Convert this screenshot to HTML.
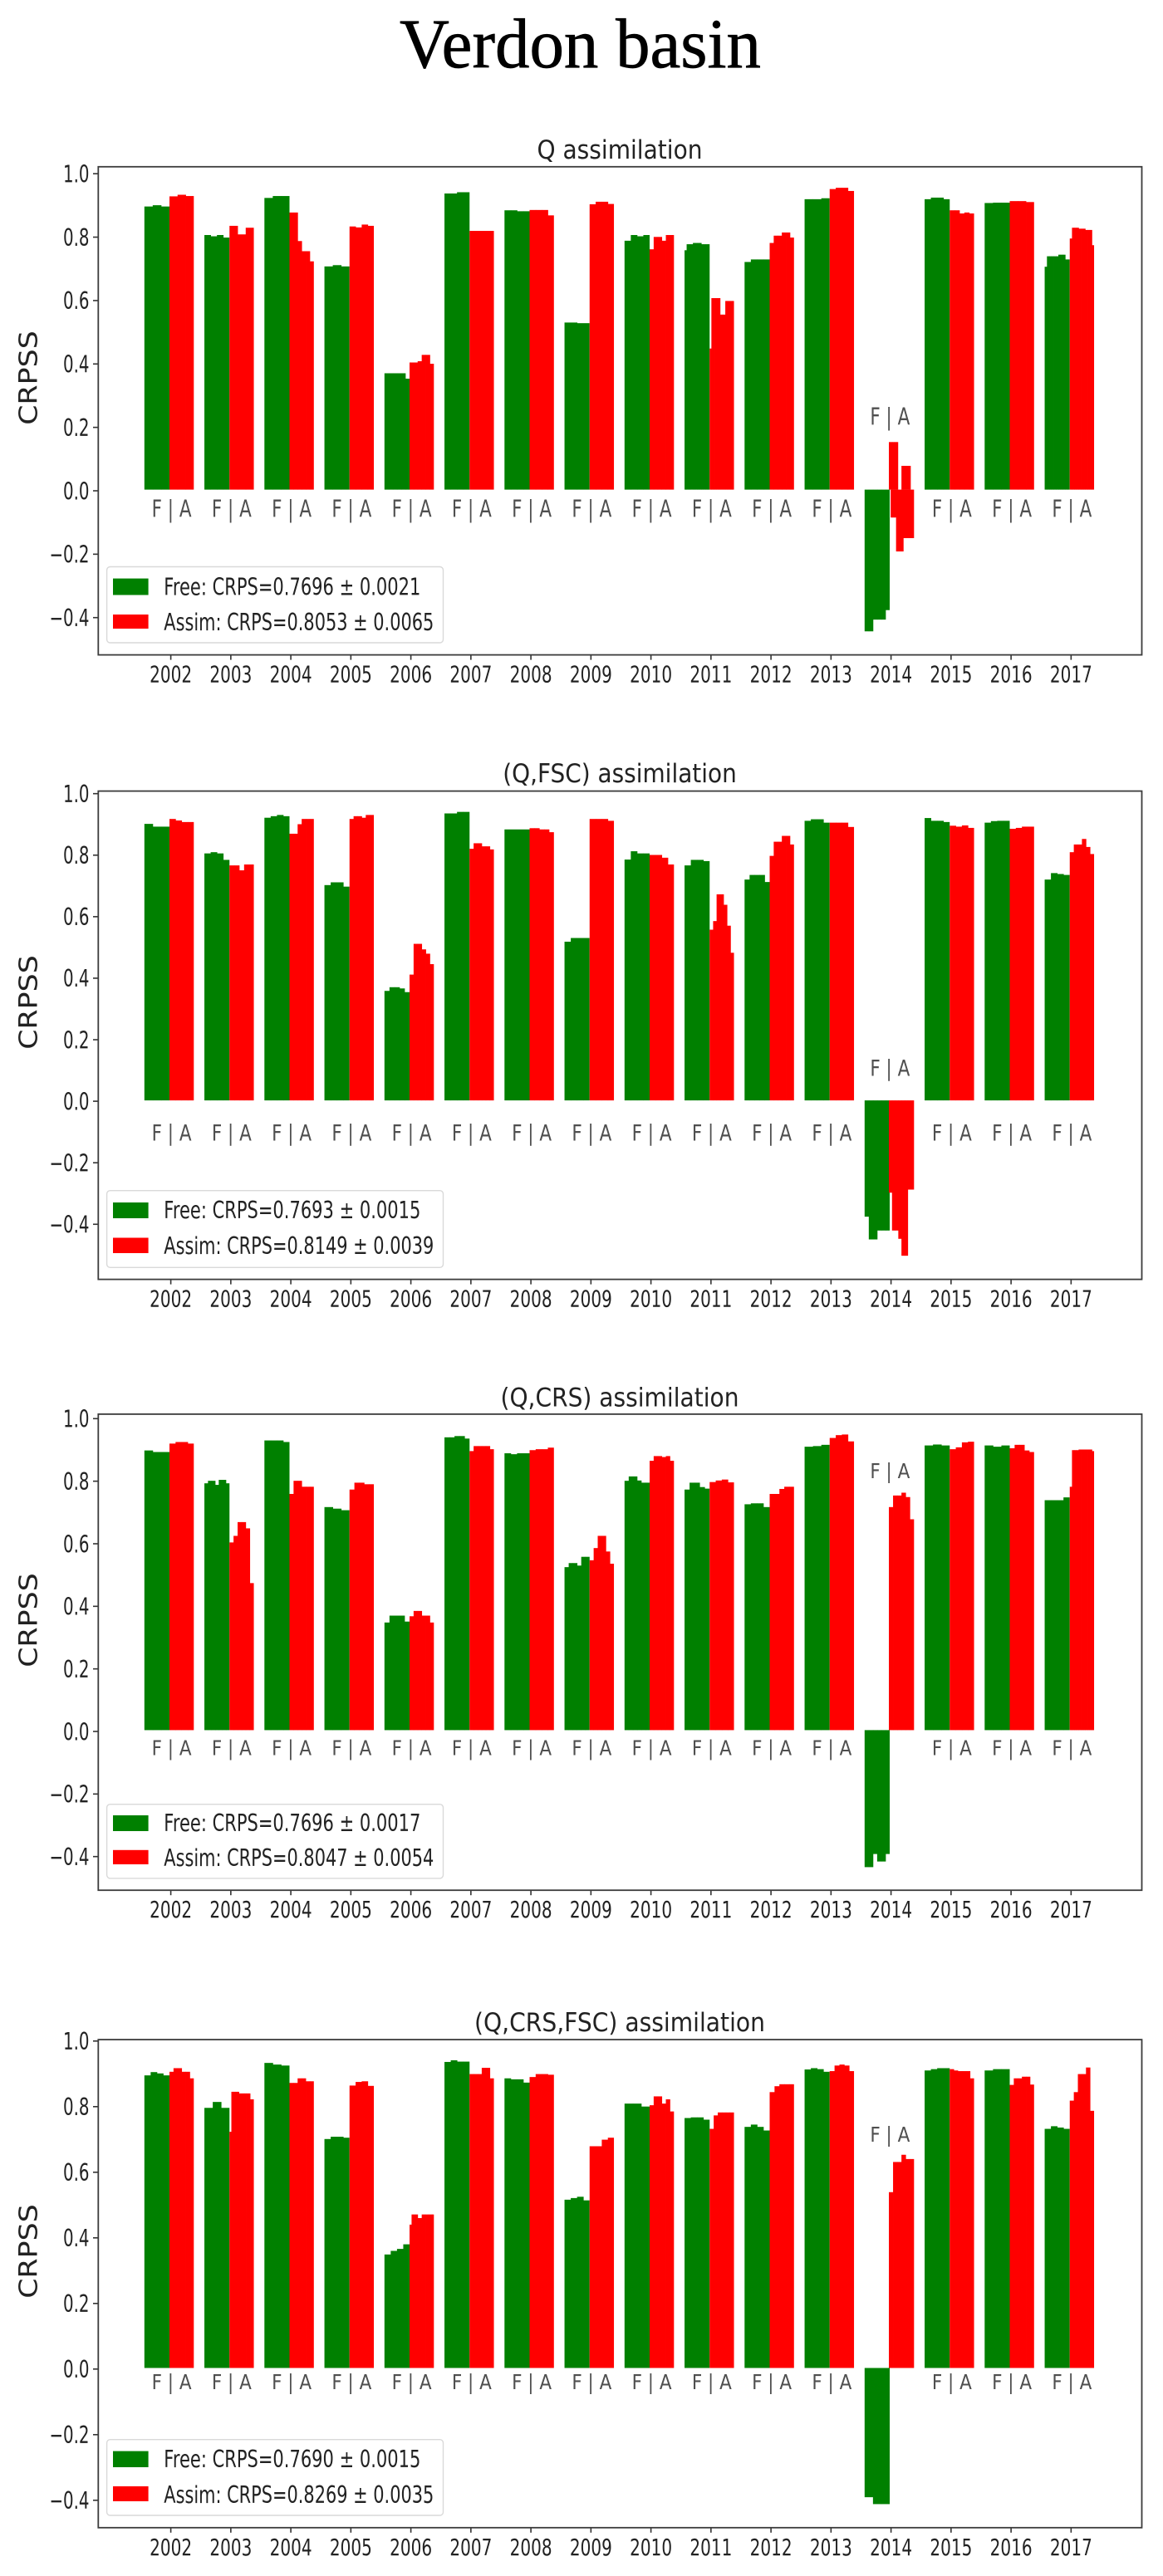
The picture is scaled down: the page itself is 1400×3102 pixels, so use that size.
<!DOCTYPE html>
<html lang="en">
<head>
<meta charset="utf-8">
<title>Verdon basin</title>
<style>
html,body{margin:0;padding:0;background:#fff;}
svg{display:block;}
text{font-family:"DejaVu Sans","Liberation Sans",sans-serif;fill:#222;}
#main-title{font-family:"Liberation Serif",serif;fill:#000;stroke:#000;stroke-width:0.7px;}
</style>
</head>
<body>
<svg id="chart" xmlns="http://www.w3.org/2000/svg" width="1400" height="3102" viewBox="0 0 1400 3102">
  <rect x="0" y="0" width="1400" height="3102" fill="#ffffff"></rect>
  <text id="main-title" x="698.5" y="81" font-size="85" text-anchor="middle" textLength="435" lengthAdjust="spacingAndGlyphs">Verdon basin</text>
</svg>
<script>
const years = [2002,2003,2004,2005,2006,2007,2008,2009,2010,2011,2012,2013,2014,2015,2016,2017];
const yTickValues = [1.0,0.8,0.6,0.4,0.2,0.0,-0.2,-0.4];
const yTickLabels = ['1.0','0.8','0.6','0.4','0.2','0.0','\u22120.2','\u22120.4'];

const qFree = [
[.893,.897,.893],[.803,.799,.803,.795],[.92,.926,.926],[.704,.708,.704],
[.367,.367,.367,.367,.367,.35],[.934,.934,.938,.938],[.881,.881,.878,.878],[.527,.525],
[.785,.803,.799,.803],[.755,.774,.774,.774,.778,.778,.778,.778,.774,.774,.774,.774],[.718,.726,.726,.726],[.916,.916,.919],
[-.447,-.447,-.41,-.41,-.41,-.38],[.916,.921,.921,.916],[.904,.905,.905],[.703,.736,.736,.736,.736,.736,.741,.741,.741,.726,.726]];
const qAssim = [
[.925,.93,.926],[.832,.805,.826],[.874,.874,.784,.752,.752,.72],[.83,.827,.836,.832],
[.401,.401,.405,.425,.425,.397],[.816],[.882,.882,.882,.865],[.9,.908,.908,.901],
[.758,.797,.797,.785,.803,.803],[.445,.604,.604,.604,.604,.604,.552,.552,.552,.595,.595,.595,.595,.595],[.778,.801,.801,.811,.811,.795],[.948,.952,.952,.942],
[.15,.15,.15,.15,.15,0,0,.075,.075,.075,.075,.075,0,0],[.881,.881,.871,.874,.871],[.91,.91,.907],[.792,.826,.826,.826,.823,.823,.823,.819,.819,.819,.771]];
const qAssimBelow2014 = [0,-.088,-.088,-.088,-.195,-.195,-.195,-.195,-.153,-.153,-.153,-.153,-.153,-.153];

const fscFree = [
[.899,.89,.89],[.803,.807,.803,.782],[.919,.924,.928,.924],[.7,.709,.709,.695],
[.356,.368,.368,.364,.352],[.933,.933,.938,.938],[.881],[.516,.528,.528,.528],
[.783,.81,.803,.803],[.764,.782,.782,.778],[.718,.733,.733,.733,.71],[.909,.914,.914,.903],
[-.378,-.452,-.452,-.423,-.423,-.423],[.918,.909,.909,.905],[.903,.908,.909,.909],[.718,.739,.736,.733]];
const fscAssim = [
[.915,.91,.905,.905],[.764,.764,.748,.767,.767],[.867,.867,.898,.915,.915,.915],[.915,.924,.924,.919,.928,.928],
[.409,.509,.509,.491,.477,.443],[.818,.836,.836,.826,.826,.816],[.885,.885,.881,.881,.872],[.915,.915,.915,.909],
[.798,.798,.789,.767],[.555,.583,.67,.67,.636,.568,.48],[.795,.841,.841,.86,.86,.832],[.903,.903,.903,.889],
[-.3,-.423,-.423,-.45,-.505,-.505,-.29,-.29],[.893,.89,.894,.886],[.883,.886,.89,.89],[.807,.832,.832,.85,.824,.801]];

const crsFree = [
[.894,.889,.889],[.789,.797,.797,.784,.8,.8,.789],[.926,.926,.926,.921],[.713,.708,.703],
[.344,.366,.366,.366,.347],[.936,.936,.94,.94,.932],[.885,.882,.885,.885],[.521,.534,.534,.526,.554,.554],
[.797,.811,.811,.798,.791,.791],[.769,.791,.791,.777,.772],[.722,.725,.725,.713],[.906,.908,.912],
[-.438,-.438,-.396,-.42,-.42,-.396],[.91,.913,.91],[.91,.906,.91],[.735,.735,.735,.744]];
const crsAssim = [
[.916,.921,.921,.916],[.6,.621,.665,.665,.645,.47],[.755,.797,.797,.778,.778,.778],[.769,.791,.791,.786,.786],
[.364,.381,.381,.366,.366,.344],[.892,.908,.908,.908,.908,.898],[.895,.898,.898,.903],[.543,.582,.621,.621,.571,.532],
[.861,.876,.876,.873,.876,.861],[.793,.798,.801,.792],[.755,.755,.771,.778,.778],[.934,.943,.945,.923],
[.713,.75,.75,.759,.745,.674],[.898,.904,.92,.922],[.901,.912,.912,.894,.889],[.778,.895,.895,.895,.897,.897,.897,.897,.897,.897,.892]];

const crsFscFree = [
[.892,.902,.898,.892],[.793,.811,.793],[.93,.925,.922],[.698,.705,.705,.702],
[.346,.357,.363,.377],[.933,.938,.934,.934],[.883,.88,.88,.87],[.513,.518,.522,.511],
[.806,.806,.797],[.762,.764,.764,.757],[.735,.742,.735,.724],[.91,.914,.911,.903],
[-.394,-.415,-.415],[.907,.911,.914,.914],[.907,.911,.911],[.729,.737,.733,.729]];
const crsFscAssim = [
[.903,.914,.914,.903,.903,.883],[.72,.842,.842,.842,.842,.837,.837,.837,.837,.837,.837,.819,.819],[.869,.869,.883,.883,.874,.874],[.861,.872,.874,.86],
[.437,.468,.468,.468,.457,.457,.468,.468,.468,.468,.468,.468],[.896,.896,.896,.915,.915,.883],[.887,.896,.896,.894],[.676,.676,.696,.702],
[.801,.828,.828,.806,.819,.782],[.729,.77,.779,.779,.779,.779],[.841,.859,.865,.865,.865],[.905,.922,.925,.922,.905],
[.536,.628,.628,.65,.637,.637],[.911,.907,.905,.905,.905,.883],[.863,.883,.883,.888,.888,.864],[.815,.841,.896,.896,.916,.784]];

const panelTitles = ['Q assimilation','(Q,FSC) assimilation','(Q,CRS) assimilation','(Q,CRS,FSC) assimilation'];
const freeLegendLabels = ['Free: CRPS=0.7696 \u00b1 0.0021','Free: CRPS=0.7693 \u00b1 0.0015','Free: CRPS=0.7696 \u00b1 0.0017','Free: CRPS=0.7690 \u00b1 0.0015'];
const assimLegendLabels = ['Assim: CRPS=0.8053 \u00b1 0.0065','Assim: CRPS=0.8149 \u00b1 0.0039','Assim: CRPS=0.8047 \u00b1 0.0054','Assim: CRPS=0.8269 \u00b1 0.0035'];
const freeSeries = [qFree,fscFree,crsFree,crsFscFree];
const assimSeries = [qAssim,fscAssim,crsAssim,crsFscAssim];
const labelHeights = [-.086,-.131,-.08,-.064];
const label2014Heights = [.205,.08,.805,.69];

/* layout (pixels), separate from the data */
const layouts = [
 {top:200.8,bottom:788.6,zero:589.6,unit:381.8,nudge:1.4,titleBase:191,titleW:199,boxT:682.5,boxB:774,gT:696.6,gB:716.5,rT:740,rB:757,fBase:716.5,aBase:759,labelSy:1.34,cy:455},
 {top:952.6,bottom:1540.6,zero:1325.1,unit:370.4,nudge:1,titleBase:942,titleW:281.6,boxT:1433.7,boxB:1526.3,gT:1448,gB:1467,rT:1490.5,rB:1509,fBase:1467,aBase:1510,labelSy:1.22,cy:1207},
 {top:1702.9,bottom:2276.2,zero:2083.4,unit:376.7,nudge:1.6,titleBase:1693.7,titleW:287,boxT:2172.7,boxB:2261.9,gT:2186,gB:2205,rT:2227.8,rB:2245,fBase:2205,aBase:2247,labelSy:1.16,cy:1951},
 {top:2456.1,bottom:3043.8,zero:2851.5,unit:395,nudge:1.3,titleBase:2446,titleW:350,boxT:2937.7,boxB:3029,gT:2951.6,gB:2971,rT:2994,rB:3012,fBase:2971,aBase:3014,labelSy:1.16,cy:2711}
];
const AXIS_LEFT = 118.3, AXIS_RIGHT = 1374.5;
const NS = 'http://www.w3.org/2000/svg';
const svg = document.getElementById('chart');

function xScale(year){ return 205.6 + 72.25 * (year - years[0]); }
function yScale(layout, value){ return layout.zero - layout.unit * value; }

function makeEl(tag, parent){
  const el = document.createElementNS(NS, tag);
  parent.appendChild(el);
  return el;
}
function makeRect(parent, x, y, w, h, fill){
  const r = makeEl('rect', parent);
  r.setAttribute('x', x); r.setAttribute('y', y);
  r.setAttribute('width', w); r.setAttribute('height', h);
  r.setAttribute('fill', fill);
  return r;
}
function makeLine(parent, x1, y1, x2, y2, color, width){
  const l = makeEl('line', parent);
  l.setAttribute('x1', x1); l.setAttribute('y1', y1);
  l.setAttribute('x2', x2); l.setAttribute('y2', y2);
  l.setAttribute('stroke', color); l.setAttribute('stroke-width', width);
  return l;
}
function makeText(parent, str, x, y, size, anchor, sy){
  const t = makeEl('text', parent);
  t.textContent = str;
  t.setAttribute('font-size', size);
  t.setAttribute('text-anchor', anchor);
  t.setAttribute('transform', 'translate(' + x + ',' + y + ') scale(1,' + sy + ')');
  return t;
}
function drawSteps(parent, layout, steps, x0, x1, color, name){
  const w = (x1 - x0) / steps.length;
  steps.forEach(function(v, i){
    if (v === 0) return;
    const yv = yScale(layout, v), y0 = yScale(layout, 0);
    const r = makeRect(parent, x0 + i * w, Math.min(yv, y0), w + (i < steps.length - 1 ? 0.4 : 0), Math.abs(y0 - yv), color);
    
    
  });
}

layouts.forEach(function(layout, p){
  const g = makeEl('g', svg);
  
  

  const title = makeText(g, panelTitles[p], 0, 0, 28, 'middle', 1.1);
  title.setAttribute('transform', 'translate(746,' + layout.titleBase + ') scale(1,1.1)');
  title.setAttribute('textLength', layout.titleW);
  title.setAttribute('lengthAdjust', 'spacingAndGlyphs');
  
  

  const ylab = makeEl('text', g);
  ylab.textContent = 'CRPSS';
  ylab.setAttribute('font-size', 30);
  ylab.setAttribute('text-anchor', 'middle');
  ylab.setAttribute('transform', 'translate(44.6,' + layout.cy + ') rotate(-90) scale(1.16,1)');
  
  

  years.forEach(function(year, i){
    const tx = xScale(year);
    const start = tx - 31.8, mid = tx - 1.6, end = tx + 27.7;
    drawSteps(g, layout, freeSeries[p][i], start, mid, '#008000', 'bar-free-' + year);
    if (p === 0 && year === 2014) {
      drawSteps(g, layout, qAssimBelow2014, mid - 1, end, '#ff0000', 'bar-assim-below-' + year);
    }
    drawSteps(g, layout, assimSeries[p][i], year === 2014 ? mid - 1 : mid, end, '#ff0000', 'bar-assim-' + year);

    const labelValue = year === 2014 ? label2014Heights[p] : labelHeights[p];
    const fa = makeText(g, 'F | A', tx + (year === 2014 ? -1.3 : 1), yScale(layout, labelValue), 21.5, 'middle', layout.labelSy);
    fa.setAttribute('fill', '#4f4f4f');
    fa.style.fill = '#4f4f4f';
    
    

    const tick = makeLine(g, tx, layout.bottom, tx, layout.bottom + 6, '#333', 1.6);
    
    

    const tl = makeText(g, String(year), tx, layout.bottom + 33, 20, 'middle', 1.36);
    
    
  });

  yTickValues.forEach(function(v, i){
    const ty = yScale(layout, v) + layout.nudge;
    const tick = makeLine(g, 112, ty, AXIS_LEFT, ty, '#333', 1.6);
    
    
    const tl = makeText(g, yTickLabels[i], 107.5, ty + 10.3, 19.8, 'end', 1.42);
    
    
  });

  const frame = makeRect(g, AXIS_LEFT, layout.top, AXIS_RIGHT - AXIS_LEFT, layout.bottom - layout.top, 'none');
  frame.setAttribute('stroke', '#3c3c3c');
  frame.setAttribute('stroke-width', 1.8);
  
  

  const lg = makeEl('g', g);
  
  
  const box = makeRect(lg, 128.6, layout.boxT, 404.9, layout.boxB - layout.boxT, '#ffffff');
  box.setAttribute('stroke', '#d9d9d9');
  box.setAttribute('stroke-width', 1.4);
  box.setAttribute('rx', 4);
  box.setAttribute('fill-opacity', 0.85);
  
  

  const gs = makeRect(lg, 136, layout.gT, 42.6, layout.gB - layout.gT, '#008000');
  
  
  const rs = makeRect(lg, 136, layout.rT, 42.6, layout.rB - layout.rT, '#ff0000');
  
  

  const ft = makeText(lg, freeLegendLabels[p], 197.3, layout.fBase, 21, 'start', 1.35);
  ft.setAttribute('textLength', 309);
  ft.setAttribute('lengthAdjust', 'spacingAndGlyphs');
  
  
  const at = makeText(lg, assimLegendLabels[p], 197.3, layout.aBase, 21, 'start', 1.35);
  at.setAttribute('textLength', 325);
  at.setAttribute('lengthAdjust', 'spacingAndGlyphs');
  
  
});
</script>
</body>
</html>
